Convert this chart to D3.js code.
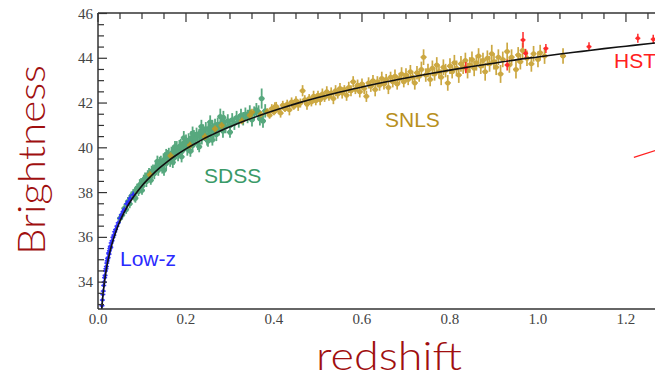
<!DOCTYPE html>
<html><head><meta charset="utf-8">
<script src="https://cdn.jsdelivr.net/npm/d3@7"></script>
<style>body{margin:0;background:#fff}svg{display:block}</style>
</head><body>
<svg id="c" width="655" height="378"></svg>
<script>
// ---- data ----
const xTicks = [0.0, 0.2, 0.4, 0.6, 0.8, 1.0, 1.2];
const yTicks = [34, 36, 38, 40, 42, 44, 46];
// model curve [z, mu]
const curveZ  = [0.008,0.01,0.015,0.02,0.03,0.04,0.05,0.06,0.07,0.08,0.09,0.1,0.12,0.14,0.16,0.18,0.2,0.22,0.24,0.26,0.28,0.3,0.34,0.38,0.42,0.46,0.5,0.55,0.6,0.65,0.7,0.75,0.8,0.85,0.9,0.95,1.0,1.05,1.1,1.15,1.2,1.25,1.3];
const curveMu = [32.70,33.17,34.05,34.69,35.58,36.22,36.73,37.14,37.49,37.79,38.06,38.31,38.73,39.10,39.42,39.70,39.95,40.18,40.40,40.59,40.77,40.94,41.25,41.53,41.79,42.03,42.25,42.49,42.72,42.93,43.12,43.30,43.47,43.63,43.78,43.93,44.06,44.19,44.31,44.43,44.54,44.65,44.75];
// Low-z [z, mu, err]
const lowz = [[0.009,32.95,.12],[0.010,33.2,.12],[0.011,33.45,.12],[0.012,33.6,.12],[0.013,33.85,.12],[0.014,34.0,.12],[0.015,34.2,.12],[0.016,34.3,.12],[0.017,34.5,.12],[0.018,34.6,.12],[0.019,34.7,.12],[0.020,34.85,.12],[0.021,34.95,.12],[0.022,35.05,.12],[0.023,35.1,.12],[0.024,35.3,.12],[0.025,35.25,.12],[0.026,35.4,.12],[0.027,35.5,.12],[0.028,35.6,.12],[0.029,35.55,.12],[0.030,35.75,.12],[0.032,35.85,.12],[0.034,36.0,.12],[0.036,36.1,.12],[0.038,36.25,.12],[0.040,36.35,.12],[0.043,36.5,.12],[0.046,36.65,.12],[0.050,36.85,.12],[0.053,37.0,.12],[0.057,37.15,.12],[0.060,37.25,.12],[0.065,37.5,.15],[0.070,37.6,.15],[0.073,37.75,.15],[0.080,37.9,.15]];
// SDSS [z, mu, err]
const sdss = [[0.05,36.85,.2],[0.055,37.0,.2],[0.06,37.3,.2],[0.064,37.25,.2],[0.068,37.6,.2],[0.072,37.5,.2],[0.076,37.85,.2],[0.08,37.95,.2],[0.083,37.8,.2],[0.086,38.1,.2],[0.089,38.2,.2],[0.092,38.05,.2],[0.095,38.35,.25],[0.098,38.4,.25],[0.101,38.3,.25],[0.104,38.55,.25],[0.107,38.65,.25],[0.11,38.5,.25],[0.113,38.75,.25],[0.116,38.85,.25],[0.119,38.7,.25],[0.122,38.95,.25],[0.125,39.0,.25],[0.128,38.85,.25],[0.131,39.1,.25],[0.134,39.2,.25],[0.137,39.0,.25],[0.14,39.3,.3],[0.143,39.35,.3],[0.146,39.15,.3],[0.149,39.45,.3],[0.152,39.5,.3],[0.155,39.3,.3],[0.158,39.6,.3],[0.161,39.7,.3],[0.164,39.45,.3],[0.167,39.75,.3],[0.17,39.8,.3],[0.173,39.55,.3],[0.176,39.9,.3],[0.179,40.0,.3],[0.182,39.7,.3],[0.185,40.05,.3],[0.188,40.1,.3],[0.191,39.85,.3],[0.194,40.2,.3],[0.197,40.15,.3],[0.2,40.3,.3],[0.203,39.95,.3],[0.206,40.35,.3],[0.209,40.2,.3],[0.212,40.45,.3],[0.215,40.1,.3],[0.218,40.5,.3],[0.221,40.4,.3],[0.224,40.6,.3],[0.227,40.2,.3],[0.23,40.55,.3],[0.233,40.7,.3],[0.236,40.45,.3],[0.239,40.75,.3],[0.242,40.6,.3],[0.245,40.85,.3],[0.248,40.4,.3],[0.251,40.8,.3],[0.254,40.9,.3],[0.257,40.55,.3],[0.26,40.95,.3],[0.263,40.7,.3],[0.266,41.0,.3],[0.269,40.6,.3],[0.272,41.05,.3],[0.275,40.85,.3],[0.278,41.4,.35],[0.281,41.1,.3],[0.284,40.75,.3],[0.287,41.15,.3],[0.29,40.95,.3],[0.295,41.2,.3],[0.3,41.0,.3],[0.305,41.25,.3],[0.31,41.1,.3],[0.315,41.35,.3],[0.32,41.2,.3],[0.325,41.45,.3],[0.33,41.3,.3],[0.335,41.5,.3],[0.34,41.4,.3],[0.345,41.6,.3],[0.35,41.25,.3],[0.355,41.55,.3],[0.36,41.7,.3],[0.365,41.6,.3],[0.368,41.3,.3],[0.372,42.2,.45],[0.375,41.2,.3],[0.38,41.65,.3],[0.15,39.0,.25],[0.17,39.35,.25],[0.19,39.6,.25],[0.21,39.85,.25],[0.23,40.05,.25],[0.25,40.3,.25],[0.26,40.35,.25],[0.3,40.7,.25],[0.135,39.4,.25],[0.155,39.7,.25],[0.175,40.05,.25],[0.195,40.45,.3],[0.215,40.65,.3],[0.235,40.95,.3],[0.255,41.15,.3],[0.285,41.35,.3],[0.12,38.55,.2],[0.1,38.1,.2],[0.085,37.75,.2]];
// SNLS [z, mu, err]
const snls = [[0.118,38.8,.15],[0.165,39.65,.15],[0.209,40.12,.15],[0.243,40.5,.15],[0.266,40.85,.15],[0.281,41.0,.15],[0.327,41.2,.15],[0.345,41.45,.15],[0.35,41.6,.15],[0.37,41.5,.15],[0.385,41.62,.15],[0.39,41.45,.15],[0.395,41.75,.2],[0.4,41.6,.15],[0.402,41.83,.2],[0.405,41.85,.2],[0.41,41.7,.15],[0.415,41.55,.2],[0.42,41.9,.2],[0.425,41.75,.15],[0.43,41.95,.2],[0.435,41.7,.25],[0.44,42.05,.2],[0.445,41.85,.15],[0.45,42.1,.2],[0.455,41.9,.25],[0.46,42.0,.2],[0.465,42.55,.25],[0.47,42.15,.2],[0.475,41.95,.25],[0.48,42.2,.2],[0.485,42.05,.2],[0.49,42.3,.25],[0.495,42.1,.2],[0.5,42.35,.2],[0.505,42.15,.25],[0.51,42.4,.25],[0.515,42.25,.2],[0.52,42.5,.25],[0.525,42.3,.2],[0.53,42.45,.25],[0.535,42.2,.25],[0.54,42.55,.25],[0.545,42.4,.2],[0.55,42.65,.25],[0.555,42.45,.25],[0.56,42.6,.2],[0.565,42.35,.25],[0.57,42.7,.25],[0.575,42.55,.25],[0.58,42.95,.25],[0.585,42.6,.2],[0.59,42.8,.25],[0.595,42.5,.25],[0.6,42.85,.25],[0.605,42.65,.25],[0.61,42.3,.25],[0.615,42.9,.25],[0.62,42.75,.25],[0.625,43.0,.25],[0.63,42.6,.3],[0.635,42.95,.25],[0.64,42.8,.25],[0.645,43.1,.3],[0.65,42.85,.25],[0.655,43.05,.25],[0.66,42.7,.3],[0.665,43.15,.25],[0.67,42.95,.25],[0.675,43.2,.3],[0.68,42.85,.25],[0.685,43.1,.25],[0.69,43.3,.3],[0.695,42.95,.25],[0.7,43.25,.3],[0.705,43.05,.25],[0.71,43.4,.3],[0.715,43.15,.25],[0.72,42.9,.3],[0.725,43.35,.3],[0.73,43.2,.25],[0.735,43.5,.35],[0.74,44.05,.35],[0.745,43.25,.3],[0.75,43.45,.3],[0.755,43.05,.3],[0.76,43.55,.35],[0.765,43.3,.3],[0.77,43.7,.35],[0.775,43.4,.3],[0.78,43.15,.35],[0.785,43.6,.35],[0.79,43.45,.3],[0.795,42.9,.35],[0.8,43.65,.35],[0.805,43.4,.3],[0.81,43.8,.35],[0.815,43.55,.35],[0.82,43.25,.35],[0.825,43.75,.35],[0.83,43.6,.3],[0.835,43.9,.35],[0.84,43.45,.35],[0.845,43.7,.35],[0.85,43.95,.35],[0.855,43.55,.35],[0.86,43.8,.35],[0.865,44.1,.35],[0.87,43.65,.35],[0.875,43.9,.35],[0.88,43.4,.4],[0.885,44.0,.35],[0.89,43.75,.35],[0.895,44.2,.4],[0.9,43.85,.35],[0.905,43.6,.35],[0.91,44.05,.35],[0.915,43.3,.4],[0.92,43.95,.35],[0.93,44.3,.4],[0.935,43.7,.35],[0.94,44.05,.35],[0.95,43.5,.4],[0.955,44.15,.35],[0.96,43.85,.35],[0.965,44.35,.35],[0.975,44.0,.35],[0.985,43.75,.35],[0.99,44.2,.35],[1.0,43.95,.35],[1.005,44.25,.35],[1.015,44.1,.35],[1.057,44.1,.35]];
// HST [z, mu, err]
const hst = [[0.836,43.58,.25],[0.93,43.7,.25],[0.966,44.82,.35],[0.972,44.22,.2],[1.018,44.44,.2],[1.116,44.52,.2],[1.227,44.89,.2],[1.262,44.85,.2]];
// red stroke at right edge [z, mu]
const redStroke = [[1.218,39.57],[1.27,39.9]];

// ---- chart ----
const svg = d3.select("#c");
const x = d3.scaleLinear().domain([0, 1.266]).range([98, 655]);
const y = d3.scaleLinear().domain([32.8, 46]).range([309, 13.5]);

svg.append("clipPath").attr("id","clip").append("rect")
  .attr("x",98).attr("y",13).attr("width",557).attr("height",296);

const plot = svg.append("g").attr("clip-path","url(#clip)");

function drawSet(data, color, r, op, sw, cap){
  const g = plot.append("g").attr("fill",color).attr("stroke",color).attr("opacity",op);
  g.selectAll("line.e").data(data).join("line").attr("class","e")
    .attr("x1",d=>x(d[0])).attr("x2",d=>x(d[0]))
    .attr("y1",d=>y(d[1]-d[2])).attr("y2",d=>y(d[1]+d[2]))
    .attr("stroke-width",sw);
  g.selectAll("line.h").data(data).join("line").attr("class","h")
    .attr("x1",d=>x(d[0])-cap).attr("x2",d=>x(d[0])+cap)
    .attr("y1",d=>y(d[1])).attr("y2",d=>y(d[1]))
    .attr("stroke-width",sw);
  g.selectAll("circle").data(data).join("circle")
    .attr("cx",d=>x(d[0])).attr("cy",d=>y(d[1])).attr("r",r).attr("stroke","none");
}
drawSet(sdss, "#3a9a68", 2.6, 0.85, 1.8, 3);
drawSet(snls, "#c49a22", 2.5, 0.85, 1.7, 3);
drawSet(lowz, "#2a2aff", 1.8, 0.95, 1.4, 2.5);
drawSet(hst, "#ff2a2a", 2, 1, 1.5, 2.5);

const curveData = curveZ.map((z,i)=>[z, curveMu[i]]);
plot.append("path").datum(curveData)
  .attr("d", d3.line().x(d=>x(d[0])).y(d=>y(d[1])).curve(d3.curveMonotoneX))
  .attr("fill","none").attr("stroke","#111").attr("stroke-width",1.6);

plot.append("path").datum(redStroke)
  .attr("d", d3.line().x(d=>x(d[0])).y(d=>y(d[1])))
  .attr("stroke","#ff2020").attr("stroke-width",1.2);

// axes
const axisColor = "#333";
const yMinor = d3.range(33, 46.01, 0.5);
const leftAxis = svg.append("g");
leftAxis.append("line").attr("x1",98).attr("x2",98).attr("y1",13).attr("y2",309).attr("stroke",axisColor).attr("stroke-width",1.5);
leftAxis.selectAll("line.t").data(yMinor).join("line").attr("class","t")
  .attr("x1",98).attr("x2",d=>yTicks.includes(d)?107:104)
  .attr("y1",d=>y(d)).attr("y2",d=>y(d)).attr("stroke",axisColor).attr("stroke-width",1.2);
leftAxis.selectAll("text").data(yTicks).join("text")
  .attr("x",93).attr("y",d=>y(d)+5).attr("text-anchor","end")
  .attr("font-family","'Liberation Serif','DejaVu Serif',serif").attr("font-size",15)
  .attr("fill","#444").text(d=>d);

const xMinor = d3.range(0, 1.2701, 0.05);
const topAxis = svg.append("g");
topAxis.append("line").attr("x1",98).attr("x2",655).attr("y1",13).attr("y2",13).attr("stroke",axisColor).attr("stroke-width",1.5);
topAxis.selectAll("line.t").data(xMinor).join("line").attr("class","t")
  .attr("x1",d=>x(d)).attr("x2",d=>x(d))
  .attr("y1",13).attr("y2",d=>Math.abs(d/0.2-Math.round(d/0.2))<1e-6?22:19)
  .attr("stroke",axisColor).attr("stroke-width",1.2);

const bottomAxis = svg.append("g");
bottomAxis.append("line").attr("x1",98).attr("x2",655).attr("y1",309).attr("y2",309).attr("stroke",axisColor).attr("stroke-width",1.5);
bottomAxis.selectAll("text").data(xTicks).join("text")
  .attr("x",d=>x(d)).attr("y",324).attr("text-anchor","middle")
  .attr("font-family","'Liberation Serif','DejaVu Serif',serif").attr("font-size",15)
  .attr("fill","#444").text(d=>d.toFixed(1));

// series labels
const lab = (t,xx,yy,c)=>svg.append("text").attr("x",xx).attr("y",yy)
  .attr("font-family","'Liberation Sans',Arial,sans-serif").attr("font-size",21)
  .attr("fill",c).text(t);
lab("Low-z",120,266,"#2a2aff");
lab("SDSS",204,183,"#3a9a68");
lab("SNLS",385,127,"#b8901e");
lab("HST",614,68,"#ff2020");

// axis titles (handwritten style)
svg.append("text").attr("transform","translate(45,160) rotate(-90)")
  .attr("text-anchor","middle").attr("font-family","'Comic Sans MS','Lato',sans-serif")
  .attr("font-weight",300).attr("font-size",38).attr("fill","#a00f0f")
  .attr("textLength",190).attr("lengthAdjust","spacingAndGlyphs").text("Brightness");
svg.append("text").attr("x",389).attr("y",370)
  .attr("text-anchor","middle").attr("font-family","'Comic Sans MS','Lato',sans-serif")
  .attr("font-weight",300).attr("font-size",40).attr("fill","#a00f0f")
  .attr("textLength",146).attr("lengthAdjust","spacingAndGlyphs").text("redshift");
</script>
</body></html>
